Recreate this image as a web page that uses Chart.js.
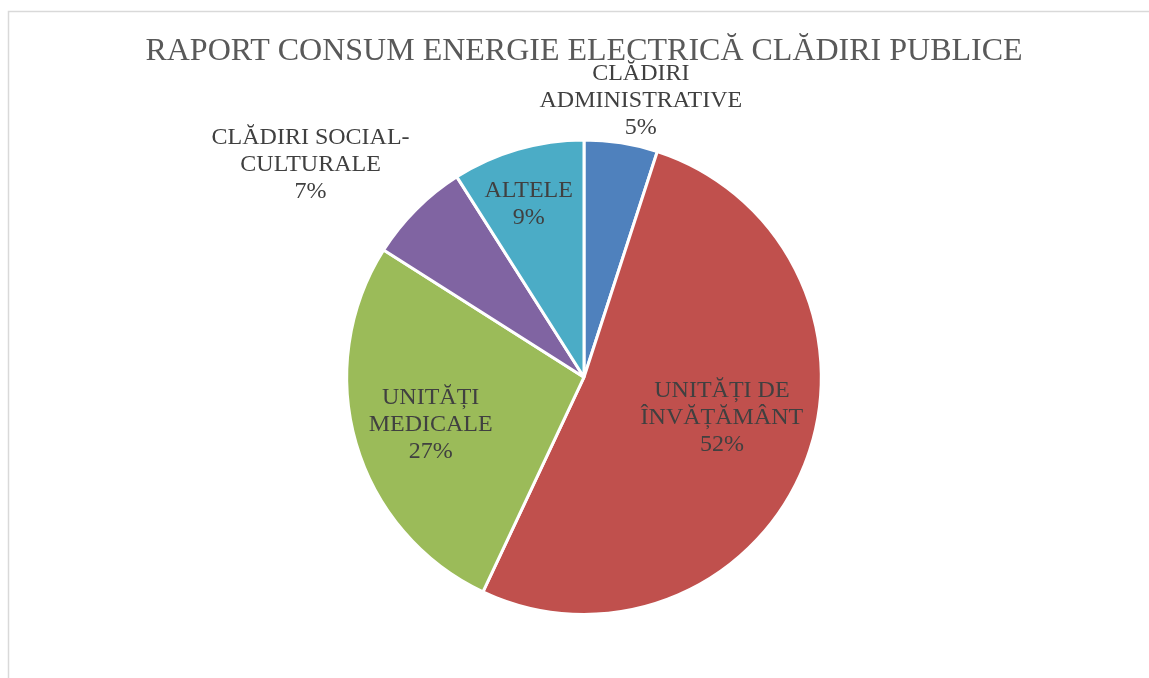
<!DOCTYPE html>
<html>
<head>
<meta charset="utf-8">
<script src="https://cdn.jsdelivr.net/npm/chart.js@4.4.0/dist/chart.umd.min.js"></script>
<style>
  html, body { margin: 0; padding: 0; background: #fff; }
  #wrap { width: 1149px; height: 678px; position: relative; }
</style>
</head>
<body>
<div id="wrap"><canvas id="pie"></canvas></div>
<script>
const categories = ["CLĂDIRI ADMINISTRATIVE", "UNITĂȚI DE ÎNVĂȚĂMÂNT", "UNITĂȚI MEDICALE", "CLĂDIRI SOCIAL-CULTURALE", "ALTELE"];
const shares = [5, 52, 27, 7, 9];
const labelLines = [
  ["CLĂDIRI", "ADMINISTRATIVE"],
  ["UNITĂȚI DE", "ÎNVĂȚĂMÂNT"],
  ["UNITĂȚI", "MEDICALE"],
  ["CLĂDIRI SOCIAL-", "CULTURALE"],
  ["ALTELE"]
];
const sliceColors = ["#4F81BD", "#C0504D", "#9BBB59", "#8064A2", "#4BACC6"];

// where each label sits: fraction of radius along the slice middle, plus a nudge
const labelPlace = [
  { f: 1.18, dx: 13, dy: 0 },
  { f: 0.625, dx: 0, dy: -14 },
  { f: 0.673, dx: 0, dy: 3 },
  { f: 1.266, dx: -61, dy: 0 },
  { f: 0.76, dx: -5, dy: 0 }
];

const frame = {
  id: "frame",
  beforeDraw(chart) {
    const ctx = chart.ctx;
    ctx.save();
    ctx.strokeStyle = "#d9d9d9";
    ctx.lineWidth = 1.5;
    ctx.beginPath();
    ctx.moveTo(8.5, chart.height);
    ctx.lineTo(8.5, 11.5);
    ctx.lineTo(chart.width, 11.5);
    ctx.stroke();
    ctx.restore();
  }
};

const sliceLabels = {
  id: "sliceLabels",
  afterDatasetsDraw(chart) {
    const ctx = chart.ctx;
    const meta = chart.getDatasetMeta(0);
    ctx.save();
    ctx.font = "24px 'Liberation Serif', 'Times New Roman', serif";
    ctx.fillStyle = "#404040";
    ctx.textAlign = "center";
    ctx.textBaseline = "middle";
    const lh = 26.8;
    meta.data.forEach((arc, i) => {
      const p = arc.getProps(["x", "y", "startAngle", "endAngle", "outerRadius"], true);
      const mid = (p.startAngle + p.endAngle) / 2;
      const r = p.outerRadius * labelPlace[i].f;
      const cx = p.x + Math.cos(mid) * r + labelPlace[i].dx;
      const cy = p.y + Math.sin(mid) * r + labelPlace[i].dy;
      const lines = [...labelLines[i], shares[i] + "%"];
      const top = cy - (lines.length - 1) * lh / 2;
      lines.forEach((t, k) => ctx.fillText(t, cx, top + k * lh));
    });
    ctx.restore();
  }
};

new Chart(document.getElementById("pie"), {
  type: "pie",
  data: {
    labels: categories,
    datasets: [{
      data: shares,
      backgroundColor: sliceColors,
      borderColor: "#ffffff",
      borderWidth: 3
    }]
  },
  options: {
    responsive: true,
    maintainAspectRatio: false,
    animation: false,
    layout: { padding: { top: 12, bottom: 62, left: 40, right: 21 } },
    plugins: {
      legend: { display: false },
      tooltip: { enabled: false },
      title: {
        display: true,
        text: "RAPORT CONSUM ENERGIE ELECTRICĂ CLĂDIRI PUBLICE",
        color: "#595959",
        font: { family: "'Liberation Serif', 'Times New Roman', serif", size: 32, weight: "normal" },
        padding: { top: 20, bottom: 68 }
      }
    }
  },
  plugins: [frame, sliceLabels]
});
</script>
</body>
</html>
